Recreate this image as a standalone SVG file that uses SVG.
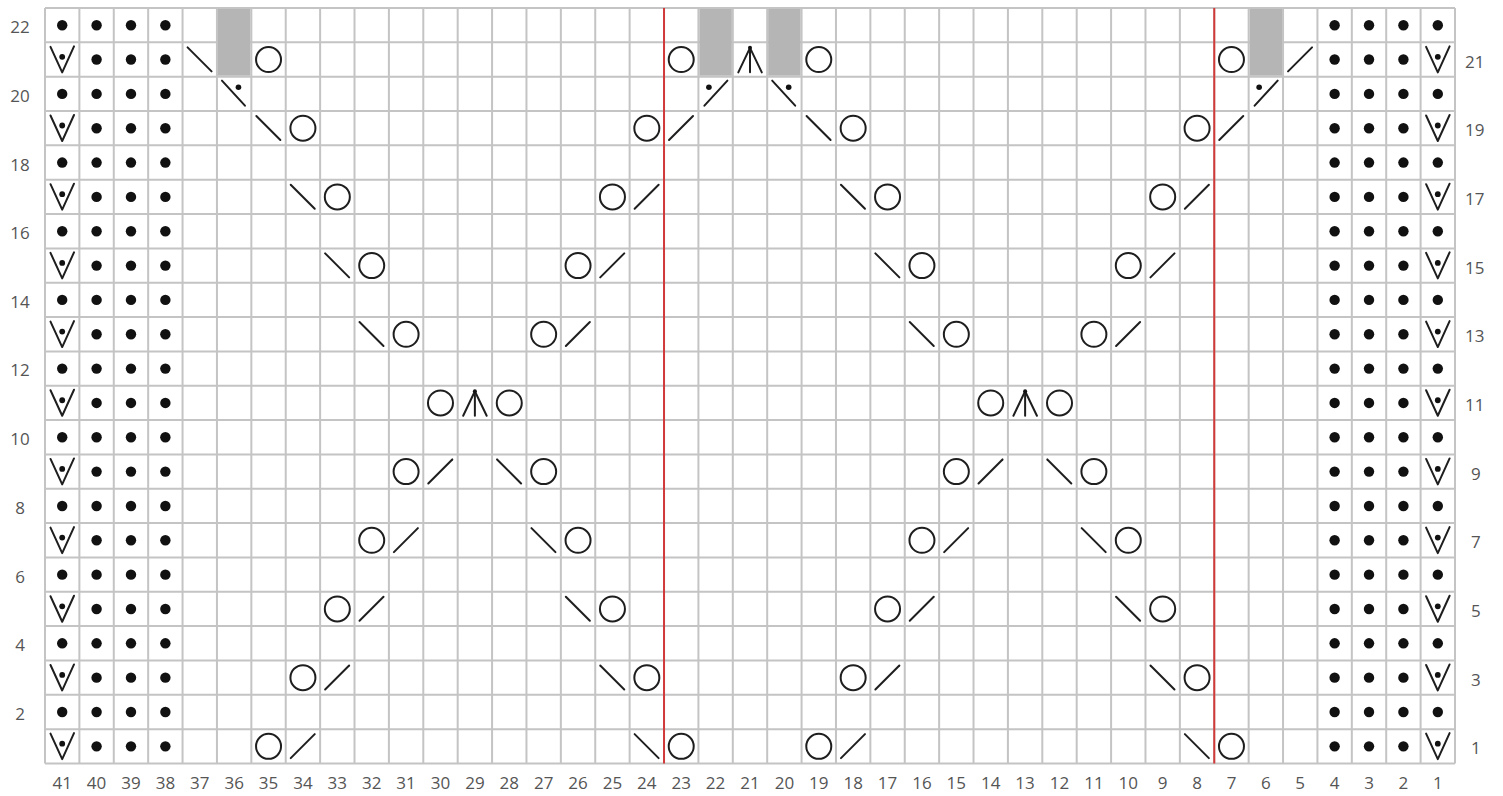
<svg xmlns="http://www.w3.org/2000/svg" width="1503" height="796" viewBox="0 0 1503 796">
<style>
.grid{fill:none;stroke:#c4c4c4;stroke-width:2}
.red{stroke:#d23a3a;stroke-width:2}
.sym{fill:none;stroke:#1e1e1e;stroke-width:2;stroke-linecap:round;stroke-linejoin:round}
.dot{fill:#111}
.gray{fill:#b5b5b5}
.lbl{font-family:"Open Sans","Liberation Sans",sans-serif;font-size:17px;fill:#555}
</style>
<defs>
<circle id="p" class="dot" cx="17.2" cy="17.2" r="5.2"/>
<circle id="o" class="sym" cx="17.2" cy="17.2" r="12.5"/>
<line id="k" class="sym" x1="5" y1="29" x2="29" y2="5"/>
<line id="s" class="sym" x1="5" y1="5" x2="29" y2="29"/>
<g id="v"><polyline class="sym" points="5.5,4.5 17.2,30 29,4"/><circle class="dot" cx="17.2" cy="14.5" r="2.9"/></g>
<g id="sd"><line class="sym" x1="5" y1="4" x2="28" y2="29"/><circle class="dot" cx="21.5" cy="10.5" r="2.8"/></g>
<g id="kd"><line class="sym" x1="6" y1="29" x2="29" y2="4"/><circle class="dot" cx="10.5" cy="10.5" r="2.8"/></g>
<g id="c"><polyline class="sym" points="5.5,30 17.2,5.5 29,30"/><line class="sym" x1="17.2" y1="5.5" x2="17.2" y2="30"/><circle class="dot" cx="17.2" cy="5.5" r="2"/></g>
<g id="e4"><use href="#p"/><use href="#p" x="34.39"/><use href="#p" x="68.78"/><use href="#p" x="103.17"/></g>
<g id="lo"><use href="#v"/><use href="#p" x="34.39"/><use href="#p" x="68.78"/><use href="#p" x="103.17"/></g>
<g id="ro"><use href="#p"/><use href="#p" x="34.39"/><use href="#p" x="68.78"/><use href="#v" x="103.17"/></g>
</defs>

<g id="grid">
<path class="grid" d="M45,8V763.48M79.39,8V763.48M113.78,8V763.48M148.17,8V763.48M182.56,8V763.48M216.95,8V763.48M251.34,8V763.48M285.73,8V763.48M320.12,8V763.48M354.51,8V763.48M388.9,8V763.48M423.29,8V763.48M457.68,8V763.48M492.07,8V763.48M526.46,8V763.48M560.85,8V763.48M595.24,8V763.48M629.63,8V763.48M664.02,8V763.48M698.41,8V763.48M732.8,8V763.48M767.19,8V763.48M801.58,8V763.48M835.97,8V763.48M870.36,8V763.48M904.75,8V763.48M939.14,8V763.48M973.53,8V763.48M1007.92,8V763.48M1042.31,8V763.48M1076.7,8V763.48M1111.09,8V763.48M1145.48,8V763.48M1179.87,8V763.48M1214.26,8V763.48M1248.65,8V763.48M1283.04,8V763.48M1317.43,8V763.48M1351.82,8V763.48M1386.21,8V763.48M1420.6,8V763.48M1454.99,8V763.48
M45,8H1455M45,42.34H1455M45,76.68H1455M45,111.02H1455M45,145.36H1455M45,179.7H1455M45,214.04H1455M45,248.38H1455M45,282.72H1455M45,317.06H1455M45,351.4H1455M45,385.74H1455M45,420.08H1455M45,454.42H1455M45,488.76H1455M45,523.1H1455M45,557.44H1455M45,591.78H1455M45,626.12H1455M45,660.46H1455M45,694.8H1455M45,729.14H1455M45,763.48H1455"/>
</g>

<g id="shaded">
<rect class="gray" x="217.95" y="9" width="32.39" height="66.68"/>
<rect class="gray" x="699.41" y="9" width="32.39" height="66.68"/>
<rect class="gray" x="768.19" y="9" width="32.39" height="66.68"/>
<rect class="gray" x="1249.65" y="9" width="32.39" height="66.68"/>
</g>

<g id="repeat-lines">
<line class="red" x1="664.02" y1="8" x2="664.02" y2="763.48"/>
<line class="red" x1="1214.26" y1="8" x2="1214.26" y2="763.48"/>
</g>

<g id="edges">
<use href="#e4" x="45" y="8"/><use href="#e4" x="1317.43" y="8"/>
<use href="#lo" x="45" y="42.34"/><use href="#ro" x="1317.43" y="42.34"/>
<use href="#e4" x="45" y="76.68"/><use href="#e4" x="1317.43" y="76.68"/>
<use href="#lo" x="45" y="111.02"/><use href="#ro" x="1317.43" y="111.02"/>
<use href="#e4" x="45" y="145.36"/><use href="#e4" x="1317.43" y="145.36"/>
<use href="#lo" x="45" y="179.7"/><use href="#ro" x="1317.43" y="179.7"/>
<use href="#e4" x="45" y="214.04"/><use href="#e4" x="1317.43" y="214.04"/>
<use href="#lo" x="45" y="248.38"/><use href="#ro" x="1317.43" y="248.38"/>
<use href="#e4" x="45" y="282.72"/><use href="#e4" x="1317.43" y="282.72"/>
<use href="#lo" x="45" y="317.06"/><use href="#ro" x="1317.43" y="317.06"/>
<use href="#e4" x="45" y="351.4"/><use href="#e4" x="1317.43" y="351.4"/>
<use href="#lo" x="45" y="385.74"/><use href="#ro" x="1317.43" y="385.74"/>
<use href="#e4" x="45" y="420.08"/><use href="#e4" x="1317.43" y="420.08"/>
<use href="#lo" x="45" y="454.42"/><use href="#ro" x="1317.43" y="454.42"/>
<use href="#e4" x="45" y="488.76"/><use href="#e4" x="1317.43" y="488.76"/>
<use href="#lo" x="45" y="523.1"/><use href="#ro" x="1317.43" y="523.1"/>
<use href="#e4" x="45" y="557.44"/><use href="#e4" x="1317.43" y="557.44"/>
<use href="#lo" x="45" y="591.78"/><use href="#ro" x="1317.43" y="591.78"/>
<use href="#e4" x="45" y="626.12"/><use href="#e4" x="1317.43" y="626.12"/>
<use href="#lo" x="45" y="660.46"/><use href="#ro" x="1317.43" y="660.46"/>
<use href="#e4" x="45" y="694.8"/><use href="#e4" x="1317.43" y="694.8"/>
<use href="#lo" x="45" y="729.14"/><use href="#ro" x="1317.43" y="729.14"/>
</g>

<g id="stitches">
<use href="#s" x="182.56" y="42.34"/><use href="#o" x="251.34" y="42.34"/><use href="#o" x="664.02" y="42.34"/><use href="#c" x="732.8" y="42.34"/><use href="#o" x="801.58" y="42.34"/><use href="#o" x="1214.26" y="42.34"/><use href="#k" x="1283.04" y="42.34"/>
<use href="#sd" x="216.95" y="76.68"/><use href="#kd" x="698.41" y="76.68"/><use href="#sd" x="767.19" y="76.68"/><use href="#kd" x="1248.65" y="76.68"/>
<use href="#s" x="251.34" y="111.02"/><use href="#o" x="285.73" y="111.02"/><use href="#o" x="629.63" y="111.02"/><use href="#k" x="664.02" y="111.02"/><use href="#s" x="801.58" y="111.02"/><use href="#o" x="835.97" y="111.02"/><use href="#o" x="1179.87" y="111.02"/><use href="#k" x="1214.26" y="111.02"/>
<use href="#s" x="285.73" y="179.7"/><use href="#o" x="320.12" y="179.7"/><use href="#o" x="595.24" y="179.7"/><use href="#k" x="629.63" y="179.7"/><use href="#s" x="835.97" y="179.7"/><use href="#o" x="870.36" y="179.7"/><use href="#o" x="1145.48" y="179.7"/><use href="#k" x="1179.87" y="179.7"/>
<use href="#s" x="320.12" y="248.38"/><use href="#o" x="354.51" y="248.38"/><use href="#o" x="560.85" y="248.38"/><use href="#k" x="595.24" y="248.38"/><use href="#s" x="870.36" y="248.38"/><use href="#o" x="904.75" y="248.38"/><use href="#o" x="1111.09" y="248.38"/><use href="#k" x="1145.48" y="248.38"/>
<use href="#s" x="354.51" y="317.06"/><use href="#o" x="388.9" y="317.06"/><use href="#o" x="526.46" y="317.06"/><use href="#k" x="560.85" y="317.06"/><use href="#s" x="904.75" y="317.06"/><use href="#o" x="939.14" y="317.06"/><use href="#o" x="1076.7" y="317.06"/><use href="#k" x="1111.09" y="317.06"/>
<use href="#o" x="423.29" y="385.74"/><use href="#c" x="457.68" y="385.74"/><use href="#o" x="492.07" y="385.74"/><use href="#o" x="973.53" y="385.74"/><use href="#c" x="1007.92" y="385.74"/><use href="#o" x="1042.31" y="385.74"/>
<use href="#o" x="388.9" y="454.42"/><use href="#k" x="423.29" y="454.42"/><use href="#s" x="492.07" y="454.42"/><use href="#o" x="526.46" y="454.42"/><use href="#o" x="939.14" y="454.42"/><use href="#k" x="973.53" y="454.42"/><use href="#s" x="1042.31" y="454.42"/><use href="#o" x="1076.7" y="454.42"/>
<use href="#o" x="354.51" y="523.1"/><use href="#k" x="388.9" y="523.1"/><use href="#s" x="526.46" y="523.1"/><use href="#o" x="560.85" y="523.1"/><use href="#o" x="904.75" y="523.1"/><use href="#k" x="939.14" y="523.1"/><use href="#s" x="1076.7" y="523.1"/><use href="#o" x="1111.09" y="523.1"/>
<use href="#o" x="320.12" y="591.78"/><use href="#k" x="354.51" y="591.78"/><use href="#s" x="560.85" y="591.78"/><use href="#o" x="595.24" y="591.78"/><use href="#o" x="870.36" y="591.78"/><use href="#k" x="904.75" y="591.78"/><use href="#s" x="1111.09" y="591.78"/><use href="#o" x="1145.48" y="591.78"/>
<use href="#o" x="285.73" y="660.46"/><use href="#k" x="320.12" y="660.46"/><use href="#s" x="595.24" y="660.46"/><use href="#o" x="629.63" y="660.46"/><use href="#o" x="835.97" y="660.46"/><use href="#k" x="870.36" y="660.46"/><use href="#s" x="1145.48" y="660.46"/><use href="#o" x="1179.87" y="660.46"/>
<use href="#o" x="251.34" y="729.14"/><use href="#k" x="285.73" y="729.14"/><use href="#s" x="629.63" y="729.14"/><use href="#o" x="664.02" y="729.14"/><use href="#o" x="801.58" y="729.14"/><use href="#k" x="835.97" y="729.14"/><use href="#s" x="1179.87" y="729.14"/><use href="#o" x="1214.26" y="729.14"/>
</g>

<g id="row-labels" class="lbl">
<text x="20" y="33" text-anchor="middle">22</text>
<text x="20" y="102" text-anchor="middle">20</text>
<text x="20" y="170.5" text-anchor="middle">18</text>
<text x="20" y="239" text-anchor="middle">16</text>
<text x="20" y="307.5" text-anchor="middle">14</text>
<text x="20" y="376" text-anchor="middle">12</text>
<text x="20" y="445" text-anchor="middle">10</text>
<text x="20" y="514" text-anchor="middle">8</text>
<text x="20" y="582.5" text-anchor="middle">6</text>
<text x="20" y="651" text-anchor="middle">4</text>
<text x="20" y="720" text-anchor="middle">2</text>
<text x="1465" y="67.5">21</text>
<text x="1465" y="136">19</text>
<text x="1465" y="205">17</text>
<text x="1465" y="273.5">15</text>
<text x="1465" y="342">13</text>
<text x="1465" y="411">11</text>
<text x="1471" y="479.5">9</text>
<text x="1471" y="548">7</text>
<text x="1471" y="617">5</text>
<text x="1471" y="685.5">3</text>
<text x="1471" y="754">1</text>
</g>

<g id="col-labels" class="lbl" text-anchor="middle">
<text x="62.2" y="789">41</text><text x="96.6" y="789">40</text><text x="131" y="789">39</text><text x="165.4" y="789">38</text><text x="199.8" y="789">37</text><text x="234.2" y="789">36</text><text x="268.5" y="789">35</text><text x="302.9" y="789">34</text><text x="337.3" y="789">33</text><text x="371.7" y="789">32</text><text x="406.1" y="789">31</text><text x="440.5" y="789">30</text><text x="474.9" y="789">29</text><text x="509.3" y="789">28</text><text x="543.7" y="789">27</text><text x="578.1" y="789">26</text><text x="612.4" y="789">25</text><text x="646.8" y="789">24</text><text x="681.2" y="789">23</text><text x="715.6" y="789">22</text><text x="750" y="789">21</text><text x="784.4" y="789">20</text><text x="818.8" y="789">19</text><text x="853.2" y="789">18</text><text x="887.6" y="789">17</text><text x="922" y="789">16</text><text x="956.3" y="789">15</text><text x="990.7" y="789">14</text><text x="1025.1" y="789">13</text><text x="1059.5" y="789">12</text><text x="1093.9" y="789">11</text><text x="1128.3" y="789">10</text><text x="1162.7" y="789">9</text><text x="1197.1" y="789">8</text><text x="1231.5" y="789">7</text><text x="1265.9" y="789">6</text><text x="1300.2" y="789">5</text><text x="1334.6" y="789">4</text><text x="1369" y="789">3</text><text x="1403.4" y="789">2</text><text x="1437.8" y="789">1</text>
</g>
</svg>
